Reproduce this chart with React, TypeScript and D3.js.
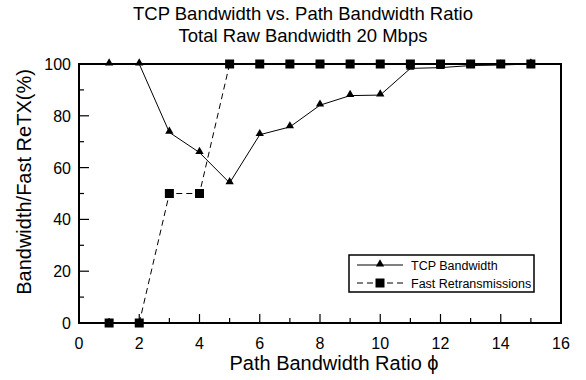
import React from "react";
import * as d3 from "d3";

const ratios = [1, 2, 3, 4, 5, 6, 7, 8, 9, 10, 11, 12, 13, 14, 15];
const tcpBandwidth = [100, 100, 73.6, 65.8, 54.1, 72.7, 75.7, 84.1, 87.8, 88.0, 98.3, 98.6, 99.4, 99.6, 100];
const fastRetx = [0, 0, 50, 50, 100, 100, 100, 100, 100, 100, 100, 100, 100, 100, 100];
const xMajorTicks = [0, 2, 4, 6, 8, 10, 12, 14, 16];
const yMajorTicks = [0, 20, 40, 60, 80, 100];
const titleLines = ["TCP Bandwidth vs. Path Bandwidth Ratio", "Total Raw Bandwidth 20 Mbps"];
const legendLabels = ["TCP Bandwidth", "Fast Retransmissions"];

const W = 586;
const H = 380;
const L = 79, R = 561, T = 64, B = 323;
const FONT = "'Liberation Sans', Arial, Helvetica, sans-serif";

export default function App() {
  const x = d3.scaleLinear().domain([0, 16]).range([L, R]);
  const y = d3.scaleLinear().domain([0, 100]).range([B, T]);
  const line = d3
    .line<[number, number]>()
    .x((d) => x(d[0]))
    .y((d) => y(d[1]));
  const tcpPts: [number, number][] = ratios.map((r, i) => [r, tcpBandwidth[i]]);
  const retxPts: [number, number][] = ratios.map((r, i) => [r, fastRetx[i]]);
  const xMinor = d3.range(0, 17, 1);
  const yMinor = d3.range(0, 101, 10);
  const tri = d3.symbol().type(d3.symbolTriangle).size(30)();
  const sq = 9;

  const lx = 349, ly = 255, lw = 185, lh = 37;

  return (
    <svg width={W} height={H} style={{ position: "absolute", left: 0, top: 0 }}>
      <rect x={0} y={0} width={W} height={H} fill="#fff" />
      {titleLines.map((t, i) => (
        <text key={i} x={303} y={20 + i * 22} textAnchor="middle" fontFamily={FONT} fontSize={18.5} fill="#000">
          {t}
        </text>
      ))}
      {xMinor.map((v) => (
        <line key={"xm" + v} x1={x(v)} x2={x(v)} y1={B} y2={B - (v % 2 === 0 ? 9 : 5)} stroke="#000" strokeWidth={1.2} />
      ))}
      {yMinor.map((v) => (
        <line key={"ym" + v} x1={L} x2={L + (v % 20 === 0 ? 10 : 5)} y1={y(v)} y2={y(v)} stroke="#000" strokeWidth={1.2} />
      ))}
      {xMajorTicks.map((v) => (
        <text key={"xl" + v} x={x(v)} y={349} textAnchor="middle" fontFamily={FONT} fontSize={16} fill="#000">
          {v}
        </text>
      ))}
      {yMajorTicks.map((v) => (
        <text key={"yl" + v} x={71} y={y(v) + 6} textAnchor="end" fontFamily={FONT} fontSize={16} fill="#000">
          {v}
        </text>
      ))}
      <rect x={L} y={T} width={R - L} height={B - T} fill="none" stroke="#000" strokeWidth={2} />

      <path d={line(retxPts) || ""} fill="none" stroke="#000" strokeWidth={1} strokeDasharray="6,4" />
      {retxPts.map((p, i) => (
        <rect key={"s" + i} x={x(p[0]) - sq / 2} y={y(p[1]) - sq / 2} width={sq} height={sq} fill="#000" />
      ))}
      <path d={line(tcpPts) || ""} fill="none" stroke="#000" strokeWidth={1} />
      {tcpPts.map((p, i) => (
        <path key={"t" + i} d={tri || ""} transform={`translate(${x(p[0])},${y(p[1]) - 1})`} fill="#000" />
      ))}

      <rect x={lx} y={ly} width={lw} height={lh} fill="#fff" stroke="#000" strokeWidth={1.5} />
      <line x1={357} x2={403} y1={265} y2={265} stroke="#000" strokeWidth={1} />
      <path d={tri || ""} transform={`translate(380,264)`} fill="#000" />
      <text x={411} y={269.5} fontFamily={FONT} fontSize={12.5} fill="#000">{legendLabels[0]}</text>
      <line x1={357} x2={403} y1={283} y2={283} stroke="#000" strokeWidth={1} strokeDasharray="6,4" />
      <rect x={380 - 4.5} y={283 - 4.5} width={9} height={9} fill="#000" />
      <text x={411} y={287.5} fontFamily={FONT} fontSize={12.5} fill="#000">{legendLabels[1]}</text>

      <text x={334} y={370} textAnchor="middle" fontFamily={FONT} fontSize={20} fill="#000">
        Path Bandwidth Ratio ϕ
      </text>
      <text
        transform={`translate(31,182) rotate(-90)`}
        textAnchor="middle"
        fontFamily={FONT}
        fontSize={20}
        fill="#000"
      >
        Bandwidth/Fast ReTX(%)
      </text>
    </svg>
  );
}
